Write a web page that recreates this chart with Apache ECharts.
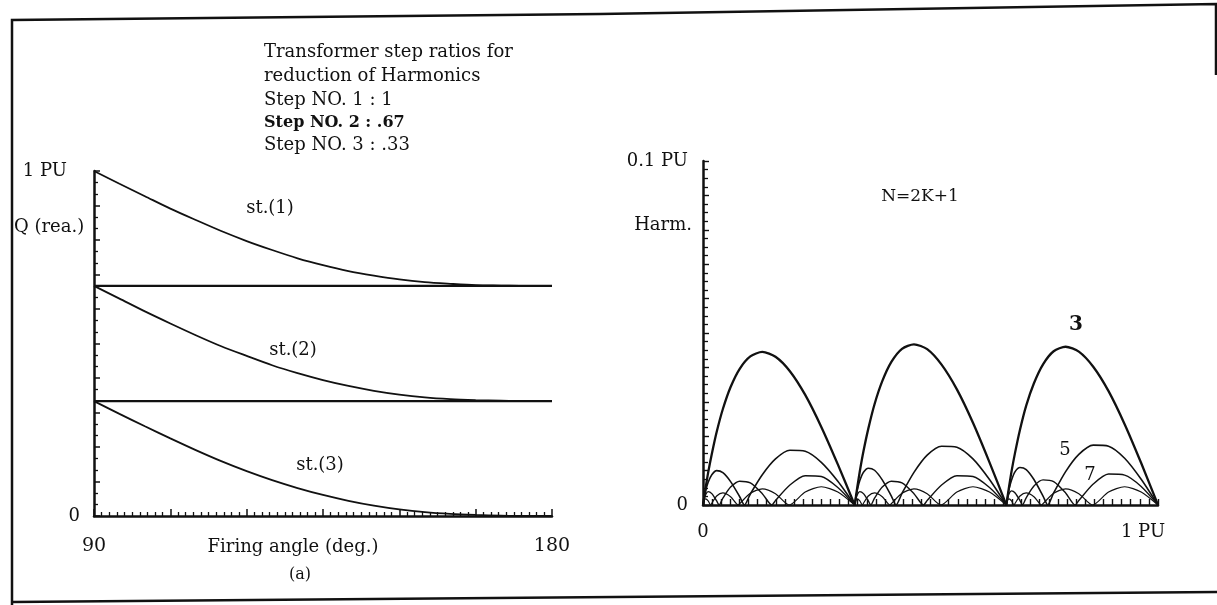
<!DOCTYPE html>
<html><head><meta charset="utf-8">
<script src="https://cdn.jsdelivr.net/npm/echarts@6/dist/echarts.min.js"></script>
<style>html,body{margin:0;padding:0;background:#fff}#c{width:1217px;height:605px}</style>
</head><body><div id="c"></div>
<script>
// ---------- (a) Reactive power of each step vs firing angle ----------
const firingAngles = [90,95,100,105,110,115,120,125,130,135,140,145,150,155,160,165,170,175,180];
const st1 = [1,0.963,0.927,0.891,0.858,0.826,0.797,0.771,0.747,0.727,0.71,0.697,0.686,0.678,0.673,0.669,0.668,0.667,0.667];
const st2 = [0.667,0.63,0.593,0.558,0.524,0.492,0.464,0.437,0.414,0.394,0.377,0.363,0.352,0.344,0.339,0.336,0.334,0.333,0.333];
const st3 = [0.333,0.296,0.26,0.225,0.191,0.159,0.13,0.104,0.081,0.061,0.044,0.03,0.019,0.011,0.006,0.003,0.001,0,0];
const stepBaselines = [0.667, 0.333];
const leftXLabels = {90:'90', 180:'180'};
const leftYLabels = {0:'0', 1:'1 PU'};

// ---------- Harmonics vs total reactive power ----------
const stepStarts = [0, 1/3, 2/3];      // PU where each step's control range starts
const stepWidth = 1/3;
// position inside a step (fraction of the step) and harmonic amplitude (PU) for steps 1..3
const h3Pos = [0,0.008,0.018,0.034,0.058,0.09,0.131,0.182,0.242,0.312,0.391,0.478,0.573,0.674,0.78,0.889,1];
const h3Steps = [
  [0,0.0023,0.0052,0.0094,0.0148,0.0212,0.0279,0.0343,0.0396,0.0432,0.0445,0.0431,0.0389,0.032,0.0227,0.0118,0],
  [0,0.0024,0.0054,0.0098,0.0156,0.0222,0.0293,0.036,0.0416,0.0454,0.0467,0.0453,0.0408,0.0336,0.0239,0.0124,0],
  [0,0.0024,0.0053,0.0097,0.0153,0.0219,0.0289,0.0354,0.0409,0.0447,0.046,0.0446,0.0402,0.0331,0.0235,0.0122,0]
];
const h5Pos = [0,0.008,0.018,0.034,0.058,0.09,0.131,0.182,0.242,0.273,0.312,0.391,0.478,0.573,0.674,0.78,0.889,1];
const h5Steps = [
  [0,0.002,0.0042,0.0066,0.0088,0.01,0.0094,0.0068,0.0024,0,0.0032,0.0088,0.0134,0.0159,0.0156,0.0124,0.0069,0],
  [0,0.0022,0.0045,0.0071,0.0095,0.0107,0.0101,0.0073,0.0026,0,0.0034,0.0095,0.0145,0.0171,0.0168,0.0134,0.0074,0],
  [0,0.0022,0.0046,0.0072,0.0097,0.0109,0.0103,0.0074,0.0026,0,0.0035,0.0097,0.0147,0.0174,0.0171,0.0136,0.0075,0]
];
const h7Pos = [0,0.008,0.018,0.034,0.058,0.09,0.106,0.131,0.182,0.242,0.312,0.391,0.454,0.478,0.573,0.674,0.78,0.889,1];
const h7Steps = [
  [0,0.0018,0.0031,0.0039,0.0033,0.0012,0,0.002,0.0052,0.0069,0.0064,0.0033,0,0.0013,0.0058,0.0085,0.0083,0.0051,0],
  [0,0.0018,0.0031,0.0039,0.0033,0.0012,0,0.002,0.0052,0.0069,0.0064,0.0033,0,0.0013,0.0058,0.0085,0.0083,0.0051,0],
  [0,0.0019,0.0033,0.0041,0.0035,0.0013,0,0.0021,0.0055,0.0073,0.0068,0.0035,0,0.0013,0.0061,0.009,0.0087,0.0054,0]
];
const h9Pos = [0,0.008,0.018,0.034,0.051,0.058,0.09,0.131,0.182,0.232,0.242,0.312,0.391,0.478,0.568,0.674,0.78,0.889,1];
const h9Steps = [
  [0,0.0014,0.0018,0.0012,0,0.0005,0.0026,0.0035,0.0024,0,0.0004,0.0034,0.0047,0.0033,0,0.0038,0.0053,0.0038,0],
  [0,0.0014,0.0018,0.0012,0,0.0005,0.0026,0.0035,0.0024,0,0.0004,0.0034,0.0047,0.0033,0,0.0038,0.0053,0.0038,0],
  [0,0.0014,0.0018,0.0012,0,0.0005,0.0026,0.0035,0.0024,0,0.0004,0.0034,0.0047,0.0033,0,0.0038,0.0053,0.0038,0]
];
const rightXLabels = {0:'0', 1:'1 PU'};
const rightYLabels = {0:'0', 0.1:'0.1 PU'};

const INK = '#111';
const SERIF = '"DejaVu Serif", "Liberation Serif", serif';
const near = (v, t) => Math.abs(v - t) < 1e-9;
const pick = (map, v) => { for (const k in map) if (near(v, +k)) return map[k]; return ''; };

const series = [];
const leftSeries = [st1, st2, st3];
leftSeries.forEach(vals => series.push({
  type:'line', xAxisIndex:0, yAxisIndex:0, showSymbol:false, smooth:0.3, silent:true,
  lineStyle:{color:INK, width:1.8},
  data: firingAngles.map((a,i)=>[a, vals[i]])
}));
stepBaselines.forEach(b => series.push({
  type:'line', xAxisIndex:0, yAxisIndex:0, showSymbol:false, silent:true,
  lineStyle:{color:INK, width:2.2},
  data: [[firingAngles[0], b], [firingAngles[firingAngles.length-1], b]]
}));
const harmonics = [
  {pos:h3Pos, steps:h3Steps, width:2.3},
  {pos:h5Pos, steps:h5Steps, width:1.6},
  {pos:h7Pos, steps:h7Steps, width:1.4},
  {pos:h9Pos, steps:h9Steps, width:1.2}
];
harmonics.forEach(h => h.steps.forEach((vals,k) => series.push({
  type:'line', xAxisIndex:1, yAxisIndex:1, showSymbol:false, smooth:0.25, silent:true,
  lineStyle:{color:INK, width:h.width},
  data: vals.map((v,i)=>[stepStarts[k] + h.pos[i]*stepWidth, v])
})));

const axisLine = {show:true, onZero:false, lineStyle:{color:INK, width:2.5}};
const txt = (text, x, y, size, opts={}) => ({
  type:'text', x, y, silent:true,
  style:{text, fill:INK, font:`${opts.weight||'normal'} ${size}px ${SERIF}`,
    align:opts.align||'center', verticalAlign:'middle',
    textAlign:opts.align||'center', textVerticalAlign:'middle'}
});

const option = {
  animation:false,
  backgroundColor:'#fff',
  grid:[
    {left:94, top:171, width:458, height:345},
    {left:703, top:161, width:455, height:344}
  ],
  xAxis:[
    {type:'value', gridIndex:0, min:90, max:180, interval:15,
     axisLine, splitLine:{show:false},
     axisTick:{inside:true, length:7, lineStyle:{color:INK, width:1.5}},
     minorTick:{show:true, splitNumber:10, length:4, lineStyle:{color:INK, width:1.3}},
     axisLabel:{margin:21, color:INK, fontSize:19, fontFamily:SERIF, showMinLabel:true, showMaxLabel:true,
       formatter:v=>pick(leftXLabels, v)}},
    {type:'value', gridIndex:1, min:0, max:1, interval:0.1,
     axisLine, splitLine:{show:false},
     axisTick:{inside:true, length:6, lineStyle:{color:INK, width:1.4}},
     minorTick:{show:true, splitNumber:5, length:6, lineStyle:{color:INK, width:1.4}},
     axisLabel:{margin:18, color:INK, fontSize:18, fontFamily:SERIF, showMinLabel:true, showMaxLabel:true,
       formatter:v=>{const s = pick(rightXLabels, v); return near(v,1) ? '{p|'+s+'}' : s;},
       rich:{p:{padding:[0,30,0,0], fontSize:18, fontFamily:SERIF, color:INK}}}}
  ],
  yAxis:[
    {type:'value', gridIndex:0, min:0, max:1, interval:0.1,
     axisLine, splitLine:{show:false},
     axisTick:{inside:true, length:6, lineStyle:{color:INK, width:1.5}},
     minorTick:{show:true, splitNumber:3, length:4, lineStyle:{color:INK, width:1.3}},
     axisLabel:{margin:14, color:INK, fontSize:18, fontFamily:SERIF, showMinLabel:true, showMaxLabel:true,
       formatter:v=>{const s = pick(leftYLabels, v); return near(v,1) ? '{p|'+s+'}' : s;},
       rich:{p:{padding:[0,13,0,0], fontSize:18, fontFamily:SERIF, color:INK}}}},
    {type:'value', gridIndex:1, min:0, max:0.1, interval:0.01,
     axisLine, splitLine:{show:false},
     axisTick:{inside:true, length:6, lineStyle:{color:INK, width:1.4}},
     minorTick:{show:true, splitNumber:4, length:5, lineStyle:{color:INK, width:1.3}},
     axisLabel:{margin:15, color:INK, fontSize:18, fontFamily:SERIF, showMinLabel:true, showMaxLabel:true,
       formatter:v=>pick(rightYLabels, v)}}
  ],
  graphic:[
    {type:'polyline', silent:true, shape:{points:[[12,605],[12,20],[600,14],[1216,4],[1216,75]]},
     style:{stroke:INK, lineWidth:2.5, fill:null}},
    {type:'polyline', silent:true, shape:{points:[[12,602],[1217,592]]},
     style:{stroke:INK, lineWidth:2.5, fill:null}},
    txt('Transformer step ratios for', 264, 52, 18, {align:'left'}),
    txt('reduction of Harmonics', 264, 76, 18, {align:'left'}),
    txt('Step NO. 1 : 1', 264, 100, 18, {align:'left'}),
    txt('Step NO. 2 : .67', 264, 123, 16, {align:'left', weight:'bold'}),
    txt('Step NO. 3 : .33', 264, 145, 18, {align:'left'}),
    txt('Q (rea.)', 14, 227, 18, {align:'left'}),
    txt('st.(1)', 270, 208, 18),
    txt('st.(2)', 293, 350, 18),
    txt('st.(3)', 320, 465, 18),
    txt('Firing angle (deg.)', 293, 547, 18),
    txt('(a)', 300, 575, 16),
    txt('Harm.', 692, 225, 18, {align:'right'}),
    txt('N=2K+1', 920, 197, 17),
    txt('3', 1076, 325, 20, {weight:'bold'}),
    txt('5', 1065, 450, 18),
    txt('7', 1090, 475, 18)
  ],
  series
};
echarts.init(document.getElementById('c'), null, {renderer:'canvas'}).setOption(option);
</script>
</body></html>
